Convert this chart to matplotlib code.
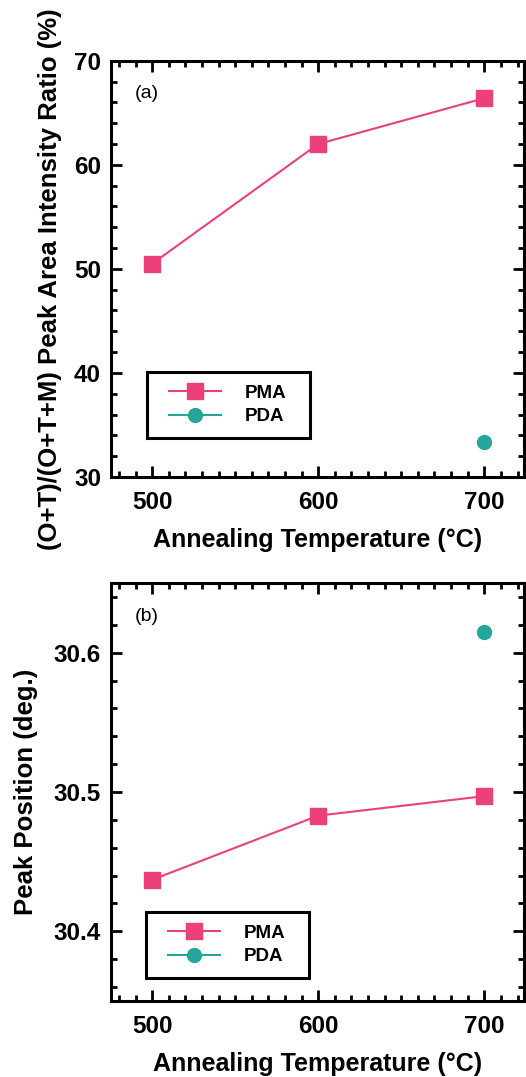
import matplotlib
matplotlib.use('Agg')
import matplotlib.pyplot as plt
from matplotlib.patches import Rectangle
from matplotlib.ticker import MultipleLocator

temps = [500, 600, 700]
ratio_pma = [50.5, 62.0, 66.4]
ratio_pda_temp = [700]
ratio_pda = [33.4]
peak_pma = [30.437, 30.483, 30.497]
peak_pda_temp = [700]
peak_pda = [30.615]

PINK = '#EC407A'
TEAL = '#26A69A'

plt.rcParams['font.family'] = 'Liberation Sans'
plt.rcParams['font.weight'] = 'bold'


def style_axis(ax):
    for s in ax.spines.values():
        s.set_linewidth(2.2)
    ax.tick_params(which='both', direction='in', top=True, right=True,
                   width=2, labelsize=17.5)
    ax.tick_params(axis='x', which='major', pad=10)
    ax.tick_params(axis='y', which='major', pad=7)
    ax.tick_params(which='major', length=8)
    ax.tick_params(which='minor', length=4.5)
    ax.xaxis.set_major_locator(MultipleLocator(100))
    ax.xaxis.set_minor_locator(MultipleLocator(10))
    ax.set_xlim(475, 724)
    ax.set_xlabel('Annealing Temperature (°C)', fontsize=18, fontweight='bold',
                  labelpad=10)


def add_legend(ax, box, anchor):
    # frame drawn separately so its padding can differ from the entries'
    ax.add_patch(Rectangle(box[:2], box[2], box[3], transform=ax.transAxes,
                           fill=False, lw=2.2, ec='black', zorder=5))
    ax.legend(loc='center left', bbox_to_anchor=anchor, borderaxespad=0,
              borderpad=0, prop={'weight': 'bold', 'size': 13.5},
              frameon=False, handlelength=2.75, handletextpad=1.3,
              labelspacing=0.35)


def main():
    fig = plt.figure(figsize=(5.26, 10.77), dpi=100)

    ax1 = fig.add_axes([0.2105, 0.5571, 0.786, 0.3865])
    ax1.plot(temps, ratio_pma, '-s', color=PINK, lw=1.5, ms=11, label='PMA')
    ax1.plot(ratio_pda_temp, ratio_pda, '-o', color=TEAL, lw=1.5, ms=10,
             label='PDA')
    style_axis(ax1)
    ax1.set_ylim(30, 70)
    ax1.yaxis.set_major_locator(MultipleLocator(10))
    ax1.yaxis.set_minor_locator(MultipleLocator(2))
    ax1.set_ylabel('(O+T)/(O+T+M) Peak Area Intensity Ratio (%)',
                   fontsize=18.5, fontweight='bold')
    ax1.yaxis.set_label_coords(-0.118, 0.476)
    ax1.text(0.058, 0.921, '(a)', transform=ax1.transAxes, fontsize=14,
             fontweight='normal', va='center')
    add_legend(ax1, (0.087, 0.094, 0.395, 0.159), (0.141, 0.173))

    ax2 = fig.add_axes([0.2105, 0.0706, 0.786, 0.3881])
    ax2.plot(temps, peak_pma, '-s', color=PINK, lw=1.5, ms=11, label='PMA')
    ax2.plot(peak_pda_temp, peak_pda, '-o', color=TEAL, lw=1.5, ms=10,
             label='PDA')
    style_axis(ax2)
    ax2.set_ylim(30.35, 30.65)
    ax2.yaxis.set_major_locator(MultipleLocator(0.1))
    ax2.yaxis.set_minor_locator(MultipleLocator(0.02))
    ax2.set_ylabel('Peak Position (deg.)', fontsize=18.5, fontweight='bold')
    ax2.yaxis.set_label_coords(-0.176, 0.5)
    ax2.text(0.058, 0.919, '(b)', transform=ax2.transAxes, fontsize=14,
             fontweight='normal', va='center')
    add_legend(ax2, (0.085, 0.054, 0.394, 0.159), (0.139, 0.134))

    fig.savefig('out.png', dpi=100)


if __name__ == '__main__':
    main()
